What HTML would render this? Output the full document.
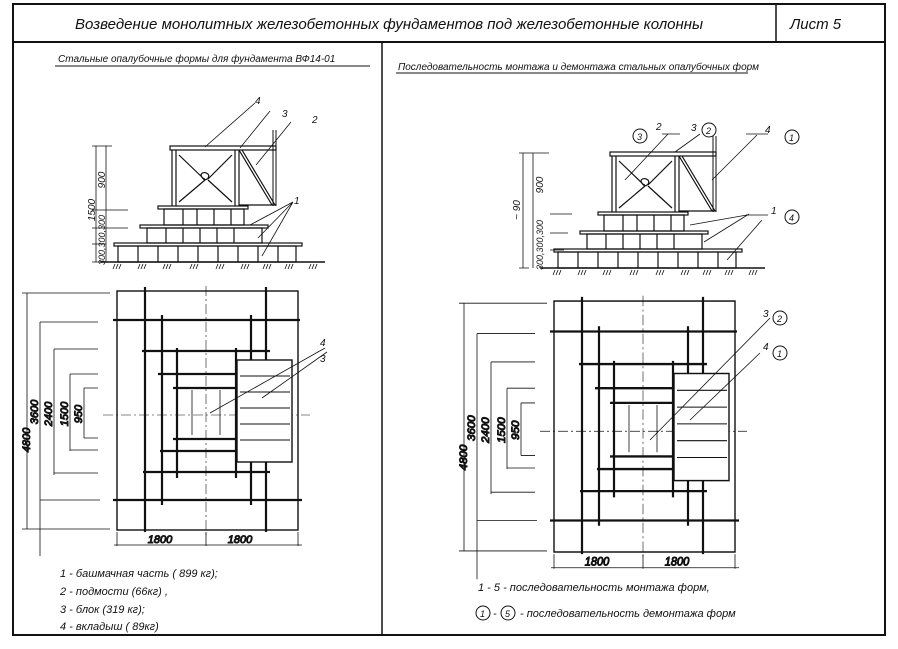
<!DOCTYPE html>
<html><head><meta charset="utf-8"><style>
html,body{margin:0;padding:0;background:#fff}
svg{display:block}
text{font-family:"Liberation Sans","DejaVu Sans",sans-serif;font-style:italic;fill:#111}
</style></head><body>
<svg width="898" height="649" viewBox="0 0 898 649" xmlns="http://www.w3.org/2000/svg">
<defs>
<g id="elev" stroke="#111" fill="none" stroke-width="1.2">
  <line x1="100" y1="262" x2="325" y2="262" stroke-width="1.5"/>
  <g stroke-width="0.8">
    <path d="M115 264l-2 5M118 264l-2 5M121 264l-2 5M140 264l-2 5M143 264l-2 5M146 264l-2 5M165 264l-2 5M168 264l-2 5M171 264l-2 5M192 264l-2 5M195 264l-2 5M198 264l-2 5M218 264l-2 5M221 264l-2 5M224 264l-2 5M243 264l-2 5M246 264l-2 5M249 264l-2 5M265 264l-2 5M268 264l-2 5M271 264l-2 5M287 264l-2 5M290 264l-2 5M293 264l-2 5M311 264l-2 5M314 264l-2 5M317 264l-2 5"/>
  </g>
  <rect x="114" y="243" width="188" height="3"/>
  <rect x="118" y="246" width="178" height="16"/>
  <path d="M138 246v16M158 246v16M178 246v16M198 246v16M218 246v16M238 246v16M258 246v16M278 246v16"/>
  <rect x="140" y="225" width="128" height="3"/>
  <rect x="147" y="228" width="115" height="15"/>
  <path d="M166 228v15M183 228v15M200 228v15M217 228v15M234 228v15"/>
  <rect x="158" y="206" width="90" height="3"/>
  <rect x="164" y="209" width="80" height="16"/>
  <path d="M183 209v16M197 209v16M214 209v16M231 209v16"/>
  <rect x="170" y="146" width="106" height="4"/>
  <path d="M172 150v56M176 150v56M235 150v56M239 150v56"/>
  <path d="M179 155l26 25M205 180c-8 -5 -2 -10 3 -6c3 4 -4 8 -4 4M179 202l26 -22M232 155l-24 24M232 202l-24 -22"/>
  <path d="M239 150l33 55M242 150l33 55"/>
  <path d="M273 130v76M276 130v76" stroke-width="1"/>
  <line x1="239" y1="205" x2="276" y2="205"/>
</g>
<g id="plan" stroke="#111" fill="none">
  <rect x="117" y="291" width="181" height="239" stroke-width="1.4"/>
  <line x1="206" y1="286" x2="206" y2="535" stroke-width="0.6" stroke-dasharray="10 3 2 3"/>
  <line x1="103" y1="415" x2="310" y2="415" stroke-width="0.6" stroke-dasharray="10 3 2 3"/>
  <g stroke-width="2.2">
    <line x1="113" y1="320" x2="300" y2="320"/>
    <line x1="142" y1="351" x2="270" y2="351"/>
    <line x1="158" y1="374" x2="240" y2="374"/>
    <line x1="173" y1="388" x2="240" y2="388"/>
    <line x1="173" y1="439" x2="240" y2="439"/>
    <line x1="160" y1="451" x2="242" y2="451"/>
    <line x1="143" y1="472" x2="270" y2="472"/>
    <line x1="113" y1="500" x2="302" y2="500"/>
    <line x1="145" y1="287" x2="145" y2="532"/>
    <line x1="162" y1="315" x2="162" y2="505"/>
    <line x1="177" y1="348" x2="177" y2="478"/>
    <line x1="236" y1="348" x2="236" y2="478"/>
    <line x1="251" y1="315" x2="251" y2="505"/>
    <line x1="266" y1="287" x2="266" y2="532"/>
  </g>
  <rect x="237" y="360" width="55" height="102" fill="#fff" stroke-width="1.4"/>
  <path d="M240 376h50M240 392h50M240 408h50M240 424h50M240 440h50" stroke-width="1"/>
  <path d="M192 390v45M220 390v45" stroke-width="0.8"/>
  <g stroke-width="0.8">
    <path d="M27 293v236M22 293h88M22 529h88"/>
    <path d="M40 322v234M40 322h58M40 500h60"/>
    <path d="M54 349v126M54 349h44M54 473h44"/>
    <path d="M70 374v77M70 374h28M70 450h28"/>
    <path d="M84 388v50M84 388h14M84 438h14"/>
    <path d="M117 532v14M298 532v14M206 532v14M114 545h188"/>
  </g>
  <text x="30" y="440" font-size="11" transform="rotate(-90 30 440)" text-anchor="middle">4800</text>
  <text x="38" y="412" font-size="11" transform="rotate(-90 38 412)" text-anchor="middle">3600</text>
  <text x="52" y="414" font-size="11" transform="rotate(-90 52 414)" text-anchor="middle">2400</text>
  <text x="68" y="414" font-size="11" transform="rotate(-90 68 414)" text-anchor="middle">1500</text>
  <text x="82" y="414" font-size="11" transform="rotate(-90 82 414)" text-anchor="middle">950</text>
  <text x="160" y="543" font-size="11" text-anchor="middle">1800</text>
  <text x="240" y="543" font-size="11" text-anchor="middle">1800</text>
</g>
</defs>

<g stroke="#111" fill="none">
  <rect x="13" y="4" width="872" height="631" stroke-width="2"/>
  <line x1="13" y1="42" x2="885" y2="42" stroke-width="2"/>
  <line x1="776" y1="4" x2="776" y2="42" stroke-width="1.5"/>
  <line x1="382" y1="42" x2="382" y2="635" stroke-width="1.5"/>
</g>
<text x="75" y="29" font-size="15">Возведение  монолитных   железобетонных  фундаментов  под железобетонные  колонны</text>
<text x="790" y="29" font-size="15">Лист 5</text>
<text x="58" y="62" font-size="10">Стальные опалубочные формы для фундамента ВФ14-01</text>
<line x1="55" y1="66" x2="370" y2="66" stroke="#111"/>
<text x="398" y="70" font-size="10">Последовательность монтажа и демонтажа стальных опалубочных  форм</text>
<line x1="396" y1="73" x2="748" y2="73" stroke="#111"/>

<use href="#elev"/>
<g stroke="#111" fill="none" stroke-width="0.8">
  <path d="M96 146v116M92 146h20M92 262h10M92 210h36M92 228h36M92 244h14M106 146v116"/>
  <path d="M205 147l50-44M240 148l30-37M256 165l35-43M250 225l43-23M258 238l35-36M262 256l31-54"/>
</g>
<text x="255" y="104" font-size="10">4</text>
<text x="282" y="117" font-size="10">3</text>
<text x="312" y="123" font-size="10">2</text>
<text x="294" y="204" font-size="10">1</text>
<text x="95" y="210" font-size="10" transform="rotate(-90 95 210)" text-anchor="middle">1500</text>
<text x="105" y="180" font-size="10" transform="rotate(-90 105 180)" text-anchor="middle">900</text>
<text x="105" y="240" font-size="9" transform="rotate(-90 105 240)" text-anchor="middle">300,300,300</text>

<use href="#plan"/>
<g stroke="#111" stroke-width="0.8"><path d="M210 413l115-65M262 398l65-46"/></g>
<text x="320" y="346" font-size="10">4</text>
<text x="320" y="362" font-size="10">3</text>

<text x="60" y="577" font-size="11">1 - башмачная часть ( 899 кг);</text>
<text x="60" y="595" font-size="11">2 - подмости (66кг) ,</text>
<text x="60" y="613" font-size="11">3 - блок  (319 кг);</text>
<text x="60" y="630" font-size="11">4 - вкладыш ( 89кг)</text>

<g transform="translate(440,6)"><use href="#elev"/></g>
<g stroke="#111" fill="none" stroke-width="0.8">
  <path d="M523 153v115M519 153h30M519 268h10M550 214h22M550 233h18M550 250h14M533 153v115"/>
  <path d="M625 180l43-46M675 152l25-18M712 180l45-45M690 225l57-10M704 242l45-28M727 260l35-40"/>
  <path d="M662 134h18M746 134h22M746 215h22"/>
</g>
<g fill="none" stroke="#111" stroke-width="1">
  <circle cx="640" cy="136" r="7"/><circle cx="709" cy="130" r="7"/><circle cx="792" cy="137" r="7"/><circle cx="792" cy="217" r="7"/>
</g>
<text x="637" y="140" font-size="9">3</text><text x="706" y="134" font-size="9">2</text><text x="789" y="141" font-size="9">1</text><text x="789" y="221" font-size="9">4</text>
<text x="656" y="130" font-size="10">2</text><text x="691" y="131" font-size="10">3</text><text x="765" y="133" font-size="10">4</text><text x="771" y="214" font-size="10">1</text>
<text x="520" y="210" font-size="10" transform="rotate(-90 520 210)" text-anchor="middle">~ 90</text>
<text x="543" y="185" font-size="10" transform="rotate(-90 543 185)" text-anchor="middle">900</text>
<text x="543" y="245" font-size="9" transform="rotate(-90 543 245)" text-anchor="middle">300,300,300</text>

<g transform="translate(437,-4.5) scale(1,1.05)"><use href="#plan"/></g>
<g stroke="#111" stroke-width="0.8" fill="none"><path d="M650 440l120-122M690 420l70-67"/></g>
<g fill="none" stroke="#111" stroke-width="1"><circle cx="780" cy="318" r="7"/><circle cx="780" cy="353" r="7"/></g>
<text x="777" y="322" font-size="9">2</text><text x="777" y="357" font-size="9">1</text>
<text x="763" y="317" font-size="10">3</text><text x="763" y="350" font-size="10">4</text>

<text x="478" y="591" font-size="11">1  -  5   - последовательность монтажа форм,</text>
<circle cx="483" cy="613" r="7" fill="none" stroke="#111"/><text x="480" y="617" font-size="9">1</text>
<text x="493" y="617" font-size="11">-</text>
<circle cx="508" cy="613" r="7" fill="none" stroke="#111"/><text x="505" y="617" font-size="9">5</text>
<text x="520" y="617" font-size="11">- последовательность демонтажа  форм</text>
</svg>
</body></html>
